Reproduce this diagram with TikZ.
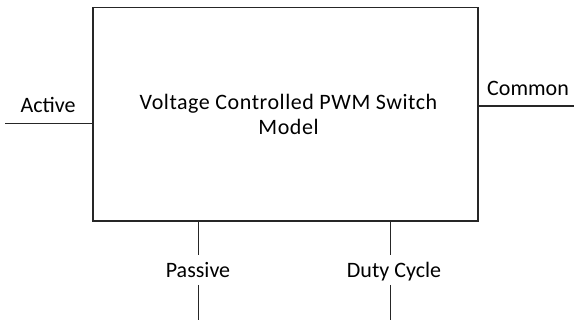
\documentclass[tikz,border=0pt]{standalone}
\usepackage{fontspec}
\setmainfont{Carlito}
\begin{document}
\begin{tikzpicture}[x=1pt,y=-1pt,
  lbl/.style={font=\fontsize{22}{25}\selectfont, inner sep=0pt, anchor=base},
  wire/.style={draw=black!85, line width=1.2pt}]
\useasboundingbox (0,0) rectangle (574,320);
\node[draw=black!85, line width=1.2pt, minimum width=385pt, minimum height=213.5pt, inner sep=0pt] (box) at (285.5,114.25) {};
\node[lbl, align=center, font=\fontsize{22}{25}\selectfont\addfontfeature{LetterSpace=2.5}] (title) at (288.5,135) {Voltage Controlled PWM Switch\\Model};
\coordinate (aL) at (5,123.5);
\coordinate (aR) at (box.west |- aL);
\draw[wire] (aL) -- (aR);
\node[lbl] (active) at (48,113) {Active};
\coordinate (cL) at (box.east |- 0,106);
\coordinate (cR) at (574,106);
\draw[wire] (cL) -- (cR);
\node[lbl] (common) at (528,96) {Common};
\coordinate (p1) at (198.5,255);
\coordinate (p2) at (198.5,285);
\coordinate (p3) at (198.5,320);
\draw[wire] (box.south -| p1) -- (p1);
\draw[wire] (p2) -- (p3);
\node[lbl] (passive) at (198,278) {Passive};
\coordinate (d1) at (390.5,255);
\coordinate (d2) at (390.5,285);
\coordinate (d3) at (390.5,320);
\draw[wire] (box.south -| d1) -- (d1);
\draw[wire] (d2) -- (d3);
\node[lbl] (duty) at (394,278) {Duty Cycle};
\end{tikzpicture}
\end{document}
